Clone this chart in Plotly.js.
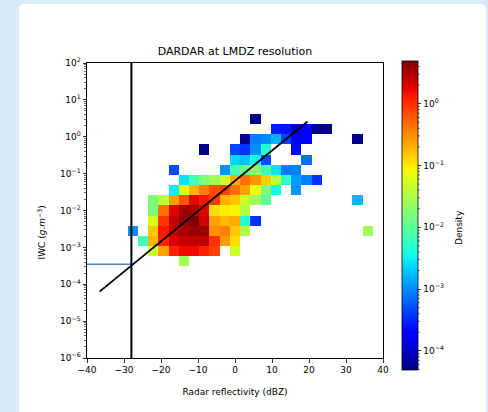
<!DOCTYPE html>
<html><head><meta charset="utf-8">
<script src="https://cdn.plot.ly/plotly-3.0.1.min.js"></script>
<style>
html,body{margin:0;padding:0;background:#dbeaf8;width:488px;height:412px;overflow:hidden;}
#card{position:absolute;left:19px;top:4px;width:467px;height:420px;background:#fff;border-radius:5px;}
#chart{position:absolute;left:0;top:0;width:488px;height:412px;}
</style></head><body>
<div id="card"></div><div id="chart"></div>
<script>
// IWC bin centres (g m^-3), one per histogram row, top to bottom
const iwcBins = [3.04, 1.61, 0.853, 0.452, 0.239, 0.127, 0.0673, 0.0356, 0.0189, 0.0100, 0.00530, 0.00281, 0.00149, 0.000789, 0.000418];
// reflectivity bin centres (dBZ) of the filled cells in each row
const dbzByRow = [
  [5.52],
  [11.03, 13.79, 16.55, 19.31, 22.07, 24.83],
  [2.76, 5.52, 8.28, 11.03, 13.79, 16.55, 19.31, 33.10],
  [-8.28, 0.00, 2.76, 5.52, 8.28, 16.55],
  [0.00, 2.76, 5.52, 8.28, 19.31],
  [-16.55, -2.76, 0.00, 2.76, 5.52, 8.28, 11.03, 13.79, 16.55],
  [-13.79, -11.03, -8.28, -5.52, -2.76, 0.00, 2.76, 5.52, 8.28, 11.03, 13.79, 16.55, 19.31, 22.07],
  [-16.55, -13.79, -11.03, -8.28, -5.52, -2.76, 0.00, 2.76, 5.52, 8.28, 11.03, 16.55],
  [-22.07, -19.31, -16.55, -13.79, -11.03, -8.28, -5.52, -2.76, 0.00, 2.76, 5.52, 8.28, 33.10],
  [-22.07, -19.31, -16.55, -13.79, -11.03, -8.28, -5.52, -2.76, 0.00, 2.76],
  [-22.07, -19.31, -16.55, -13.79, -11.03, -8.28, -5.52, -2.76, 0.00, 2.76, 5.52],
  [-27.59, -22.07, -19.31, -16.55, -13.79, -11.03, -8.28, -5.52, -2.76, 0.00, 2.76, 35.86],
  [-24.83, -22.07, -19.31, -16.55, -13.79, -11.03, -8.28, -5.52, -2.76, 0.00],
  [-22.07, -19.31, -16.55, -13.79, -11.03, -8.28, -5.52, 0.00],
  [-13.79]
];
// density of each of those cells
const densityByRow = [
  [5.5e-5],
  [2.8e-4, 2.5e-4, 1.1e-4, 1.6e-4, 5.5e-5, 5.5e-5],
  [5.5e-5, 8.7e-4, 9.8e-4, 1.6e-3, 4.4e-4, 1.6e-4, 2.0e-4, 5.5e-5],
  [5.5e-5, 4.4e-4, 3.5e-4, 1.05e-3, 4.4e-3, 2.2e-4],
  [2.4e-3, 1.8e-3, 3.5e-3, 4.9e-4, 7.3e-4],
  [4.9e-4, 1.05e-3, 6.8e-3, 1.2e-2, 1.95e-2, 6.8e-3, 2.75e-3, 8.7e-4, 8.7e-4],
  [2.75e-3, 6.8e-3, 1.6e-2, 2.6e-2, 4.9e-2, 0.22, 0.44, 0.28, 0.14, 3.9e-2, 5.5e-3, 1.2e-3, 8.7e-4, 3.5e-4],
  [3.1e-3, 6.2e-2, 0.195, 0.37, 0.65, 0.79, 0.44, 0.245, 7.8e-2, 1.55e-2, 3.9e-3, 1.1e-3],
  [1.55e-2, 4.4e-2, 0.26, 0.65, 1.74, 1.38, 0.87, 0.195, 0.155, 4.9e-2, 2.6e-2, 1.06e-2, 1.6e-3],
  [1.55e-2, 0.44, 1.88, 3.55, 3.27, 1.88, 0.115, 9.8e-2, 8.7e-2, 3.5e-2],
  [6.2e-2, 0.95, 2.57, 4.17, 4.9, 2.19, 0.245, 0.184, 0.22, 4.4e-3, 3.5e-4],
  [1.05e-3, 0.15, 1.3, 2.57, 3.27, 3.8, 3.55, 0.295, 0.37, 0.15, 3.5e-2, 2.6e-2],
  [6.8e-3, 0.195, 1.17, 2.04, 2.37, 2.57, 2.57, 0.95, 0.26, 0.115],
  [4.9e-2, 0.245, 1.17, 1.58, 1.58, 1.17, 0.79, 4.9e-2],
  [2.6e-2]
];
const densityRange = [4.9e-5, 4.9];
const thresholdDbz = -28;
const markerIwc = 3.5e-4;
const fitDbz = [-36.6, 19.6];
const fitIwc = [6.3e-5, 2.6];
const yTickExp = [-6, -5, -4, -3, -2, -1, 0, 1, 2];
const xTicks = [-40, -30, -20, -10, 0, 10, 20, 30, 40];
const cbTickExp = [-4, -3, -2, -1, 0];

// grid (29 x 29 bins over [-40,40] dBZ and [1e-6,1e2] g m^-3)
const nBins = 29, xMin = -40, xMax = 40, eMin = -6, eMax = 2;
const dx = (xMax - xMin) / nBins, de = (eMax - eMin) / nBins;
const xCenters = [], eCenters = [];
for (let i = 0; i < nBins; i++) { xCenters.push(xMin + (i + 0.5) * dx); eCenters.push(eMin + (i + 0.5) * de); }
const z = [];
for (let j = 0; j < nBins; j++) z.push(new Array(nBins).fill(null));
iwcBins.forEach((iwc, r) => {
  const jb = Math.floor((Math.log10(iwc) - eMin) / de);
  dbzByRow[r].forEach((d, k) => {
    const i = Math.floor((d - xMin) / dx);
    z[jb][i] = Math.log10(densityByRow[r][k]);
  });
});

// matplotlib jet
const jet = [
  [0, 'rgb(0,0,128)'], [0.11, 'rgb(0,0,255)'], [0.125, 'rgb(0,0,255)'],
  [0.34, 'rgb(0,219,255)'], [0.35, 'rgb(0,230,247)'], [0.375, 'rgb(21,255,226)'],
  [0.64, 'rgb(238,255,8)'], [0.65, 'rgb(247,246,0)'], [0.66, 'rgb(255,236,0)'],
  [0.89, 'rgb(255,19,0)'], [0.91, 'rgb(232,0,0)'], [1, 'rgb(128,0,0)']
];
const sup = e => '10<sup>' + (e < 0 ? '\u2212' + (-e) : e) + '</sup>';
const minorY = [];
for (let n = -6; n < 2; n++) for (let k = 2; k <= 9; k++) minorY.push(n + Math.log10(k));

const zmin = Math.log10(densityRange[0]), zmax = Math.log10(densityRange[1]);
const W = 488, H = 412, mL = 87, mR = 105, mT = 63, mB = 54;
const pw = W - mL - mR, ph = H - mT - mB;
const cbTop = 61, cbBot = 370, cbLeft = 401.5, cbThick = 16;
// colourbar minor ticks
const shapes = [];
for (let n = -5; n <= 0; n++) for (let k = 2; k <= 9; k++) {
  const v = n + Math.log10(k);
  if (v < zmin || v > zmax) continue;
  const py = cbBot - (v - zmin) / (zmax - zmin) * (cbBot - cbTop);
  const yp = (H - mB - py) / ph;
  shapes.push({type: 'line', xref: 'paper', yref: 'paper',
    x0: (cbLeft + cbThick - mL) / pw, x1: (cbLeft + cbThick + 2 - mL) / pw,
    y0: yp, y1: yp, line: {color: 'black', width: 0.8}});
}

const font = {family: 'DejaVu Sans', size: 9, color: 'black'};
const traces = [
  {type: 'heatmap', x: xCenters, y: eCenters, z: z, colorscale: jet, zmin: zmin, zmax: zmax,
   zsmooth: false, hoverongaps: false,
   colorbar: {tickmode: 'array', tickvals: cbTickExp, ticktext: cbTickExp.map(sup),
     ticks: 'outside', ticklen: 3.5, tickwidth: 0.8, tickcolor: 'black', tickfont: font,
     outlinewidth: 0.8, outlinecolor: 'black', thickness: cbThick, thicknessmode: 'pixels',
     len: cbBot - cbTop, lenmode: 'pixels', x: (cbLeft - mL) / pw, xanchor: 'left', xpad: 0,
     y: (H - mB - (cbTop + cbBot) / 2) / ph, yanchor: 'middle', ypad: 0}},
  {type: 'scatter', mode: 'lines', x: fitDbz, y: fitIwc.map(Math.log10),
   line: {color: 'black', width: 1.8}, showlegend: false},
  {type: 'scatter', mode: 'lines', x: [xMin, thresholdDbz], y: [markerIwc, markerIwc].map(Math.log10),
   line: {color: '#4a84c6', width: 1.5}, showlegend: false},
  {type: 'scatter', mode: 'lines', x: [thresholdDbz, thresholdDbz], y: [eMin, eMax],
   line: {color: 'black', width: 2}, showlegend: false}
];
const layout = {
  width: W, height: H, margin: {l: mL, r: mR, t: mT, b: mB, pad: 0},
  paper_bgcolor: 'rgba(0,0,0,0)', plot_bgcolor: 'white', font: font, showlegend: false,
  title: {text: 'DARDAR at LMDZ resolution', font: {family: 'DejaVu Sans', size: 11, color: 'black'},
    x: 0.5, xref: 'paper', xanchor: 'center', y: 1 - 51 / H, yref: 'container', yanchor: 'middle'},
  xaxis: {range: [xMin, xMax], tickmode: 'array', tickvals: xTicks, ticks: 'outside', ticklen: 3.5,
    tickwidth: 0.8, tickcolor: 'black', showgrid: false, zeroline: false, showline: true, mirror: true,
    linecolor: 'black', linewidth: 1, tickfont: font,
    title: {text: 'Radar reflectivity (dBZ)', font: font, standoff: 14}},
  yaxis: {range: [eMin, eMax], tickmode: 'array', tickvals: yTickExp, ticktext: yTickExp.map(sup),
    ticks: 'outside', ticklen: 3.5, tickwidth: 0.8, tickcolor: 'black', showgrid: false, zeroline: false,
    showline: true, mirror: true, linecolor: 'black', linewidth: 1, tickfont: font,
    minor: {tickmode: 'array', tickvals: minorY, ticks: 'outside', ticklen: 2, tickwidth: 0.6, tickcolor: 'black', showgrid: false}},
  shapes: shapes,
  annotations: [
    {text: 'IWC (<i>g.m</i><sup>\u22123</sup>)', xref: 'paper', yref: 'paper', x: (41.5 - mL) / pw, y: (H - mB - 233) / ph,
     xanchor: 'center', yanchor: 'middle', textangle: -90, showarrow: false, font: font},
    {text: 'Density', xref: 'paper', yref: 'paper', x: (459 - mL) / pw, y: (H - mB - 228) / ph,
     xanchor: 'center', yanchor: 'middle', textangle: -90, showarrow: false, font: font}
  ]
};
Plotly.newPlot('chart', traces, layout, {staticPlot: true});
</script></body></html>
